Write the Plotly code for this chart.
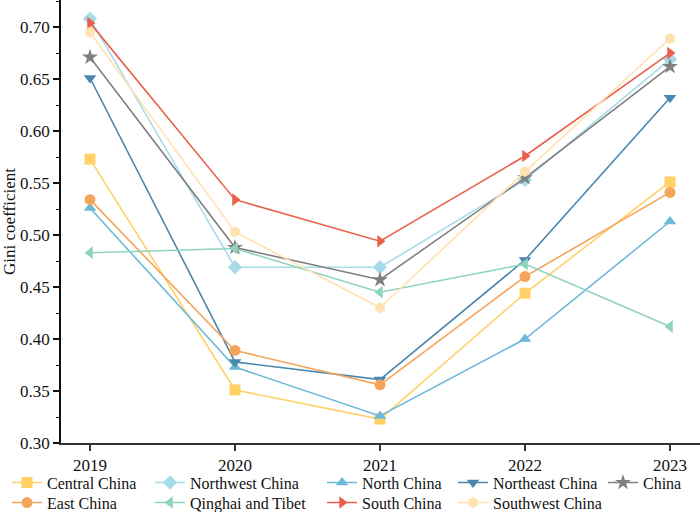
import plotly.graph_objects as go

years = [2019, 2020, 2021, 2022, 2023]

central_china = [0.573, 0.351, 0.323, 0.444, 0.551]
northwest_china = [0.708, 0.469, 0.469, 0.553, 0.669]
north_china = [0.526, 0.373, 0.326, 0.400, 0.513]
northeast_china = [0.651, 0.378, 0.361, 0.476, 0.632]
china = [0.671, 0.488, 0.457, 0.555, 0.662]
east_china = [0.534, 0.389, 0.356, 0.460, 0.541]
qinghai_tibet = [0.483, 0.487, 0.445, 0.472, 0.412]
south_china = [0.704, 0.534, 0.494, 0.576, 0.675]
southwest_china = [0.695, 0.503, 0.430, 0.561, 0.689]

series = [
    ("Central China", central_china, "#FFD166", "square"),
    ("Northwest China", northwest_china, "#A6DCE8", "diamond"),
    ("North China", north_china, "#6CB9D9", "triangle-up"),
    ("Northeast China", northeast_china, "#4A87AE", "triangle-down"),
    ("China", china, "#7F7F7F", "star"),
    ("East China", east_china, "#F5A45C", "circle"),
    ("Qinghai and Tibet", qinghai_tibet, "#8FD3BD", "triangle-left"),
    ("South China", south_china, "#E9604B", "triangle-right"),
    ("Southwest China", southwest_china, "#FFE2B0", "hexagon"),
]

FONT = "Liberation Serif"
FS = 17
LFS = 16

# legend grid: 5 columns x 2 rows (paper coordinates)
col_x = [-0.0845, 0.1393, 0.4085, 0.6135, 0.8482]
row_y = [-0.051, -0.0962]

fig = go.Figure()
legends = {}
for i, (name, vals, color, sym) in enumerate(series):
    key = "legend" if i == 0 else f"legend{i + 1}"
    fig.add_trace(go.Scatter(
        x=years, y=vals, name=name, mode="lines+markers",
        line=dict(color=color, width=1.6),
        marker=dict(symbol=sym, size=11 if sym != "star" else 12, color=color),
        legend=key,
    ))
    legends[key] = dict(
        orientation="v", yanchor="top", xanchor="left",
        x=col_x[i % 5], y=row_y[i // 5],
        font=dict(family=FONT, size=LFS, color="#111"),
        bgcolor="rgba(0,0,0,0)", borderwidth=0, itemwidth=30,
    )

fig.update_layout(
    width=700, height=512,
    margin=dict(l=61, r=0, t=0, b=69, autoexpand=False),
    paper_bgcolor="white", plot_bgcolor="white",
    font=dict(family=FONT, size=FS, color="#111"),
    showlegend=True,
    **legends,
    xaxis=dict(
        range=[2018.8, 2023.207], tickmode="array", tickvals=years,
        ticktext=[str(y) for y in years],
        showgrid=False, zeroline=False, showline=True, linecolor="#333",
        linewidth=2, ticks="outside", ticklen=6, tickwidth=1.5, tickcolor="#333",
        tickfont=dict(family=FONT, size=FS, color="#111"),
    ),
    yaxis=dict(
        range=[0.30, 0.726], tickmode="array",
        tickvals=[0.30, 0.35, 0.40, 0.45, 0.50, 0.55, 0.60, 0.65, 0.70],
        ticktext=["0.30", "0.35", "0.40", "0.45", "0.50", "0.55", "0.60", "0.65", "0.70"],
        showgrid=False, zeroline=False, showline=True, linecolor="#111",
        linewidth=1.5, ticks="outside", ticklen=6, tickwidth=1.5, tickcolor="#111",
        minor=dict(ticks="outside", ticklen=3, tickwidth=1.2, tickcolor="#111",
                   dtick=0.025, tick0=0.30, showgrid=False),
        tickfont=dict(family=FONT, size=FS, color="#111"),
        title=dict(text="Gini coefficient", font=dict(family=FONT, size=FS, color="#111"),
                   standoff=8),
    ),
)

fig.write_html("out.html", config={"displayModeBar": False},
               post_script="document.body.style.margin='0';document.body.style.overflow='hidden';")
